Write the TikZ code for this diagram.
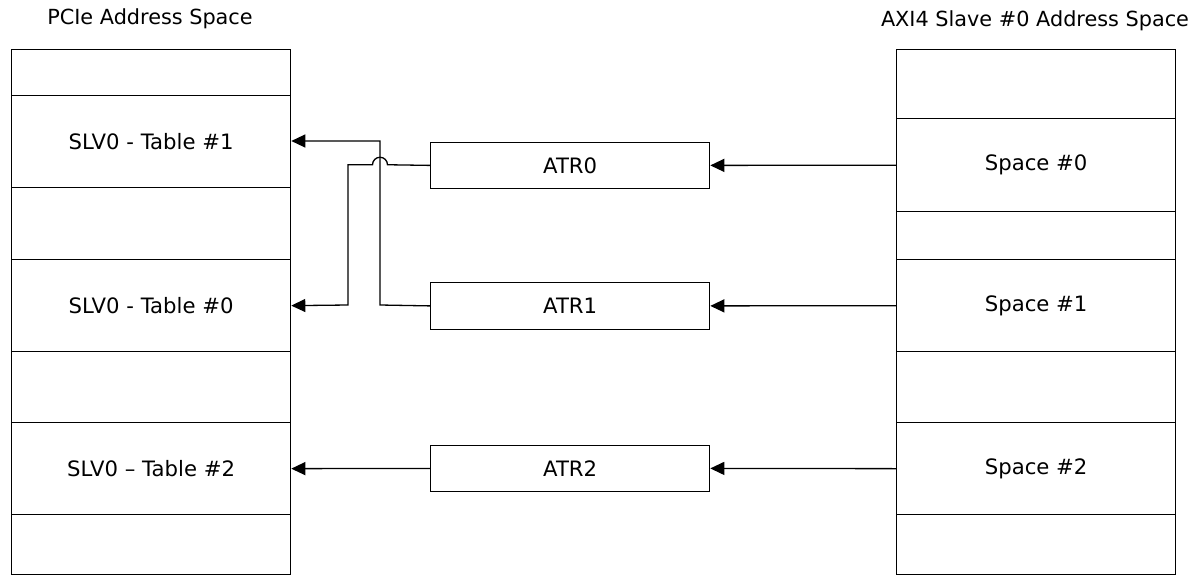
\documentclass[tikz,border=0pt]{standalone}
\usepackage{fontspec}
\setmainfont{DejaVu Sans}
\usetikzlibrary{arrows.meta}
\begin{document}
\begin{tikzpicture}[x=1pt,y=1pt,
  cell/.style={draw=black, line width=1.3pt, minimum width=279pt, inner sep=0pt, anchor=north west, font=\fontsize{21.2}{25}\selectfont},
  atrbox/.style={draw=black, line width=1.3pt, minimum width=279pt, minimum height=46.5pt, inner sep=0pt, anchor=north west, font=\fontsize{21.2}{25}\selectfont},
  title/.style={font=\fontsize{20.8}{25}\selectfont, inner sep=0pt},
  conn/.style={draw=black, line width=1.3pt},
  arr/.style={conn, -{Triangle[length=14pt,width=13pt]}}]
\useasboundingbox (0,0) rectangle (1201,-575);
% titles
\node[title] (ltitle) at (150,-19) {PCIe Address Space};
\node[title] (rtitle) at (1035,-21) {AXI4 Slave \#0 Address Space};
% left column
\node[cell, minimum height=46pt] (l0) at (11,-49) {};
\node[cell, minimum height=92pt] (tab1) at (11,-95) {SLV0 - Table \#1};
\node[cell, minimum height=72pt] (l2) at (11,-187) {};
\node[cell, minimum height=92pt] (tab0) at (11,-259) {SLV0 - Table \#0};
\node[cell, minimum height=71pt] (l4) at (11,-351) {};
\node[cell, minimum height=92pt] (tab2) at (11,-422) {SLV0 – Table \#2};
\node[cell, minimum height=60pt] (l6) at (11,-514) {};
% right column
\node[cell, minimum height=69pt] (r0) at (896,-49) {};
\node[cell, minimum height=93pt] (sp0) at (896,-118) {Space \#0};
\node[cell, minimum height=48pt] (r2) at (896,-211) {};
\node[cell, minimum height=92pt] (sp1) at (896,-259) {Space \#1};
\node[cell, minimum height=71pt] (r4) at (896,-351) {};
\node[cell, minimum height=92pt] (sp2) at (896,-422) {Space \#2};
\node[cell, minimum height=60pt] (r6) at (896,-514) {};
% ATR boxes
\node[atrbox] (atr0) at (430,-141.5) {ATR0};
\node[atrbox] (atr1) at (430,-282) {ATR1};
\node[atrbox] (atr2) at (430,-444.5) {ATR2};
% arrows from spaces to ATRs
\draw[arr] (sp0.west) -- (atr0.east);
\draw[arr] (sp1.west) -- (atr1.east);
\draw[arr] (sp2.west) -- (atr2.east);
% ATR to tables
\draw[arr] (atr1.west) -- (380,-305) -- (380,-141) -- (tab1.east |- 0,-141);
\draw[arr] (atr0.west) -- (387.5,-164.75) arc[start angle=0, end angle=180, radius=7.5pt] -- (348,-164.75) -- (348,-305) -- (tab0.east);
\draw[arr] (atr2.west) -- (tab2.east);
\end{tikzpicture}
\end{document}
